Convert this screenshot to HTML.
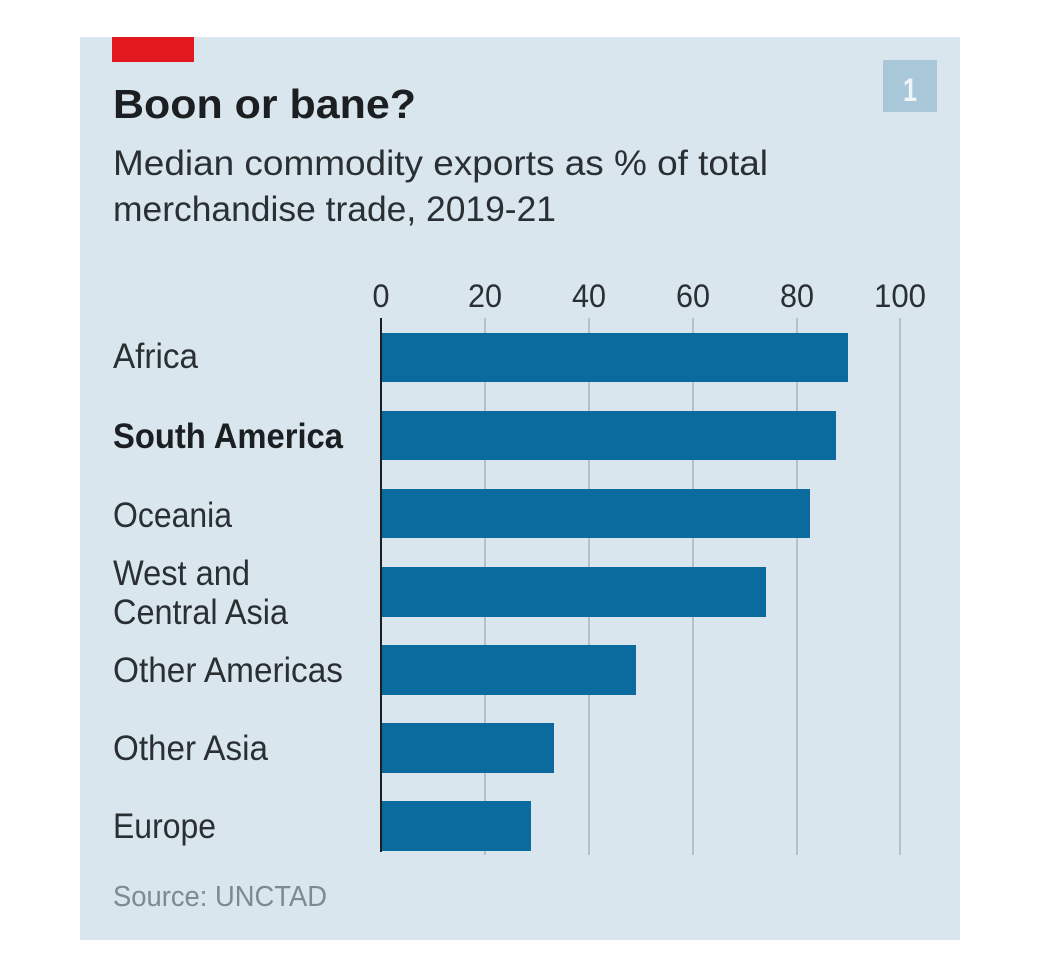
<!DOCTYPE html>
<html><head><meta charset="utf-8"><style>
html,body{margin:0;padding:0;background:#fff;}
svg{display:block;}
text{font-family:"Liberation Sans Narrow","Liberation Sans",sans-serif;fill:#2a2f33;}
</style></head><body>
<svg width="1038" height="980" viewBox="0 0 1038 980">
<rect x="0" y="0" width="1038" height="980" fill="#fff"/>
<rect x="80" y="37" width="880" height="903" fill="#d9e6ed"/>
<rect x="112" y="37" width="82" height="25" fill="#e3191f"/>
<rect x="883" y="60" width="54" height="52" fill="#a8c7d9"/>
<text x="910" y="101" font-size="32" font-weight="bold" text-anchor="middle" textLength="14" lengthAdjust="spacingAndGlyphs" style="fill:#eef4f8">1</text>
<text x="113" y="118" font-size="41" font-weight="bold" textLength="303" lengthAdjust="spacingAndGlyphs" style="fill:#1c1f22">Boon or bane?</text>
<text x="113" y="175" font-size="35" textLength="655" lengthAdjust="spacingAndGlyphs">Median commodity exports as % of total</text>
<text x="113" y="221" font-size="35" textLength="443" lengthAdjust="spacingAndGlyphs">merchandise trade, 2019-21</text>
<g stroke="#a9b4bb" stroke-width="1.5">
<line x1="485" y1="318" x2="485" y2="855"/><line x1="589" y1="318" x2="589" y2="855"/>
<line x1="693" y1="318" x2="693" y2="855"/><line x1="797" y1="318" x2="797" y2="855"/>
<line x1="900" y1="318" x2="900" y2="855"/>
</g>
<g font-size="32" text-anchor="middle">
<text x="381" y="307" textLength="17" lengthAdjust="spacingAndGlyphs">0</text>
<text x="485" y="307" textLength="34" lengthAdjust="spacingAndGlyphs">20</text>
<text x="589" y="307" textLength="34" lengthAdjust="spacingAndGlyphs">40</text>
<text x="693" y="307" textLength="34" lengthAdjust="spacingAndGlyphs">60</text>
<text x="797" y="307" textLength="34" lengthAdjust="spacingAndGlyphs">80</text>
<text x="900" y="307" textLength="52" lengthAdjust="spacingAndGlyphs">100</text>
</g>
<g fill="#0b6a9e">
<rect x="381" y="333" width="467" height="49"/>
<rect x="381" y="411" width="455" height="49"/>
<rect x="381" y="489" width="429" height="49"/>
<rect x="381" y="567" width="385" height="50"/>
<rect x="381" y="645" width="255" height="50"/>
<rect x="381" y="723" width="173" height="50"/>
<rect x="381" y="801" width="150" height="50"/>
</g>
<line x1="381" y1="318" x2="381" y2="852" stroke="#1c1f22" stroke-width="2"/>
<g font-size="35">
<text x="113" y="368" textLength="85" lengthAdjust="spacingAndGlyphs">Africa</text>
<text x="113" y="448" font-weight="bold" textLength="230" lengthAdjust="spacingAndGlyphs" style="fill:#1c1f22">South America</text>
<text x="113" y="527" textLength="119" lengthAdjust="spacingAndGlyphs">Oceania</text>
<text x="113" y="585" textLength="137" lengthAdjust="spacingAndGlyphs">West and</text>
<text x="113" y="624" textLength="175" lengthAdjust="spacingAndGlyphs">Central Asia</text>
<text x="113" y="682" textLength="230" lengthAdjust="spacingAndGlyphs">Other Americas</text>
<text x="113" y="760" textLength="155" lengthAdjust="spacingAndGlyphs">Other Asia</text>
<text x="113" y="838" textLength="103" lengthAdjust="spacingAndGlyphs">Europe</text>
</g>
<text x="113" y="906" font-size="29" textLength="214" lengthAdjust="spacingAndGlyphs" style="fill:#7d8a92">Source: UNCTAD</text>
</svg>
</body></html>
